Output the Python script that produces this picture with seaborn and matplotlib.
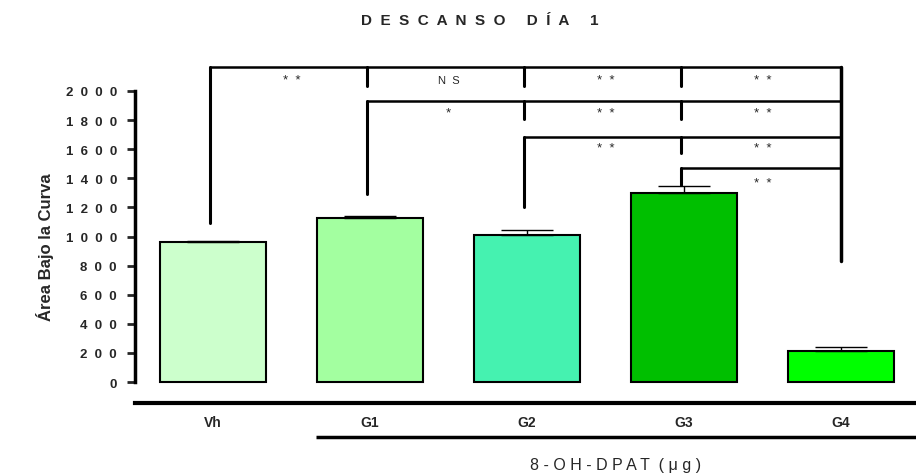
import numpy as np
import matplotlib
matplotlib.use('Agg')
import matplotlib.pyplot as plt
import seaborn as sns

sns.set_style("white")
plt.rcParams['font.family'] = ['Liberation Sans', 'DejaVu Sans']

# datos
groups = ['Vh', 'G1', 'G2', 'G3', 'G4']
means = [962, 1130, 1012, 1298, 215]
sems = [6, 10, 33, 46, 23]
colors = ['#CCFFCC', '#A3FFA0', '#45F2B0', '#00BF00', '#00FF00']
yticks = [0, 200, 400, 600, 800, 1000, 1200, 1400, 1600, 1800, 2000]

# comparaciones (todas terminan en G4)
bracket_levels = [2167, 1933, 1686, 1471]
bracket_start = [0, 1, 2, 3]
drop_ends = [1093, 1292, 1205, 1354]
tick_ends = [2031, 1808, 1574, None]
g4_drop_end = 834
sig_rows = [['*  *', 'N  S', '*  *', '*  *'],
            ['*', '*  *', '*  *'],
            ['*  *', '*  *'],
            ['*  *']]
sig_y = [2078, 1851, 1608, 1368]


def spaced(s, gap='  '):
    return gap.join(s)


fig = plt.figure(figsize=(9.16, 4.77), dpi=100)
ax = fig.add_axes([135 / 916, 73 / 477, 781 / 916, 364 / 477])

sns.barplot(x=groups, y=means, hue=groups, palette=colors, width=0.67,
            edgecolor='black', linewidth=1.5, legend=False, ax=ax, saturation=1)
x = np.arange(len(groups))
ax.errorbar(x, means, yerr=[np.zeros(len(sems)), sems], fmt='none',
            ecolor='black', elinewidth=1, capsize=19, capthick=1)

ax.set_xlim(-0.497, 4.478)
ax.set_ylim(-144, 2357)

# ejes
for s in ['top', 'right']:
    ax.spines[s].set_visible(False)
ax.spines['left'].set_bounds(0, 2000)
ax.spines['left'].set_linewidth(2.5)
ax.spines['bottom'].set_linewidth(3)
ax.spines['left'].set_color('black')
ax.spines['bottom'].set_color('black')
ax.set_yticks(yticks)
ax.set_yticklabels([spaced(str(t)) for t in yticks], fontsize=9.5, fontweight='bold')
ax.tick_params(axis='y', length=6, width=2, pad=7, left=True, direction='out')
ax.set_xticks(x)
ax.set_xticklabels(groups, fontsize=10, fontweight='bold',
                   family=['Liberation Sans Narrow', 'Liberation Sans'])
ax.tick_params(axis='x', length=0, pad=9)
ax.set_xlabel('')

# linea bajo grupos tratados
ax.plot([1 - 0.67 / 2 - 0.01, 4.478], [-378, -378], color='black', lw=2.5,
        clip_on=False, solid_capstyle='butt')
ax.text(2.567, -564, '8 - O H - D P A T  ( \u03bc g )', ha='center', va='center',
        fontsize=11.5, clip_on=False)

# corchetes de significancia
for lvl, st, dend, tend in zip(bracket_levels, bracket_start, drop_ends, tick_ends):
    ax.plot([st - 0.02, 4], [lvl, lvl], color='black', lw=1.8)
    ax.plot([st - 0.02, st - 0.02], [lvl, dend], color='black', lw=2.2)
    if tend is not None:
        for g in range(st + 1, 4):
            ax.plot([g - 0.02, g - 0.02], [lvl, tend], color='black', lw=2.2)
ax.plot([4, 4], [bracket_levels[0], g4_drop_end], color='black', lw=2.5)

for row, st, yy in zip(sig_rows, bracket_start, sig_y):
    for k, lab in enumerate(row):
        ax.text(st + k + 0.5, yy, lab, ha='center', va='center',
                fontsize=9.5 if lab != 'N  S' else 8)

fig.text(480 / 916, 1 - 21 / 477, 'D  E  S  C  A  N  S  O     D  Í  A     1', ha='center',
         va='center', fontsize=11, fontweight='bold')
fig.text(45 / 916, 1 - 247 / 477, 'Área Bajo la Curva', rotation=90, ha='center',
         va='center', fontsize=12, fontweight='bold',
         family=['Liberation Sans Narrow', 'Liberation Sans'])

fig.savefig('out.png', dpi=100)
